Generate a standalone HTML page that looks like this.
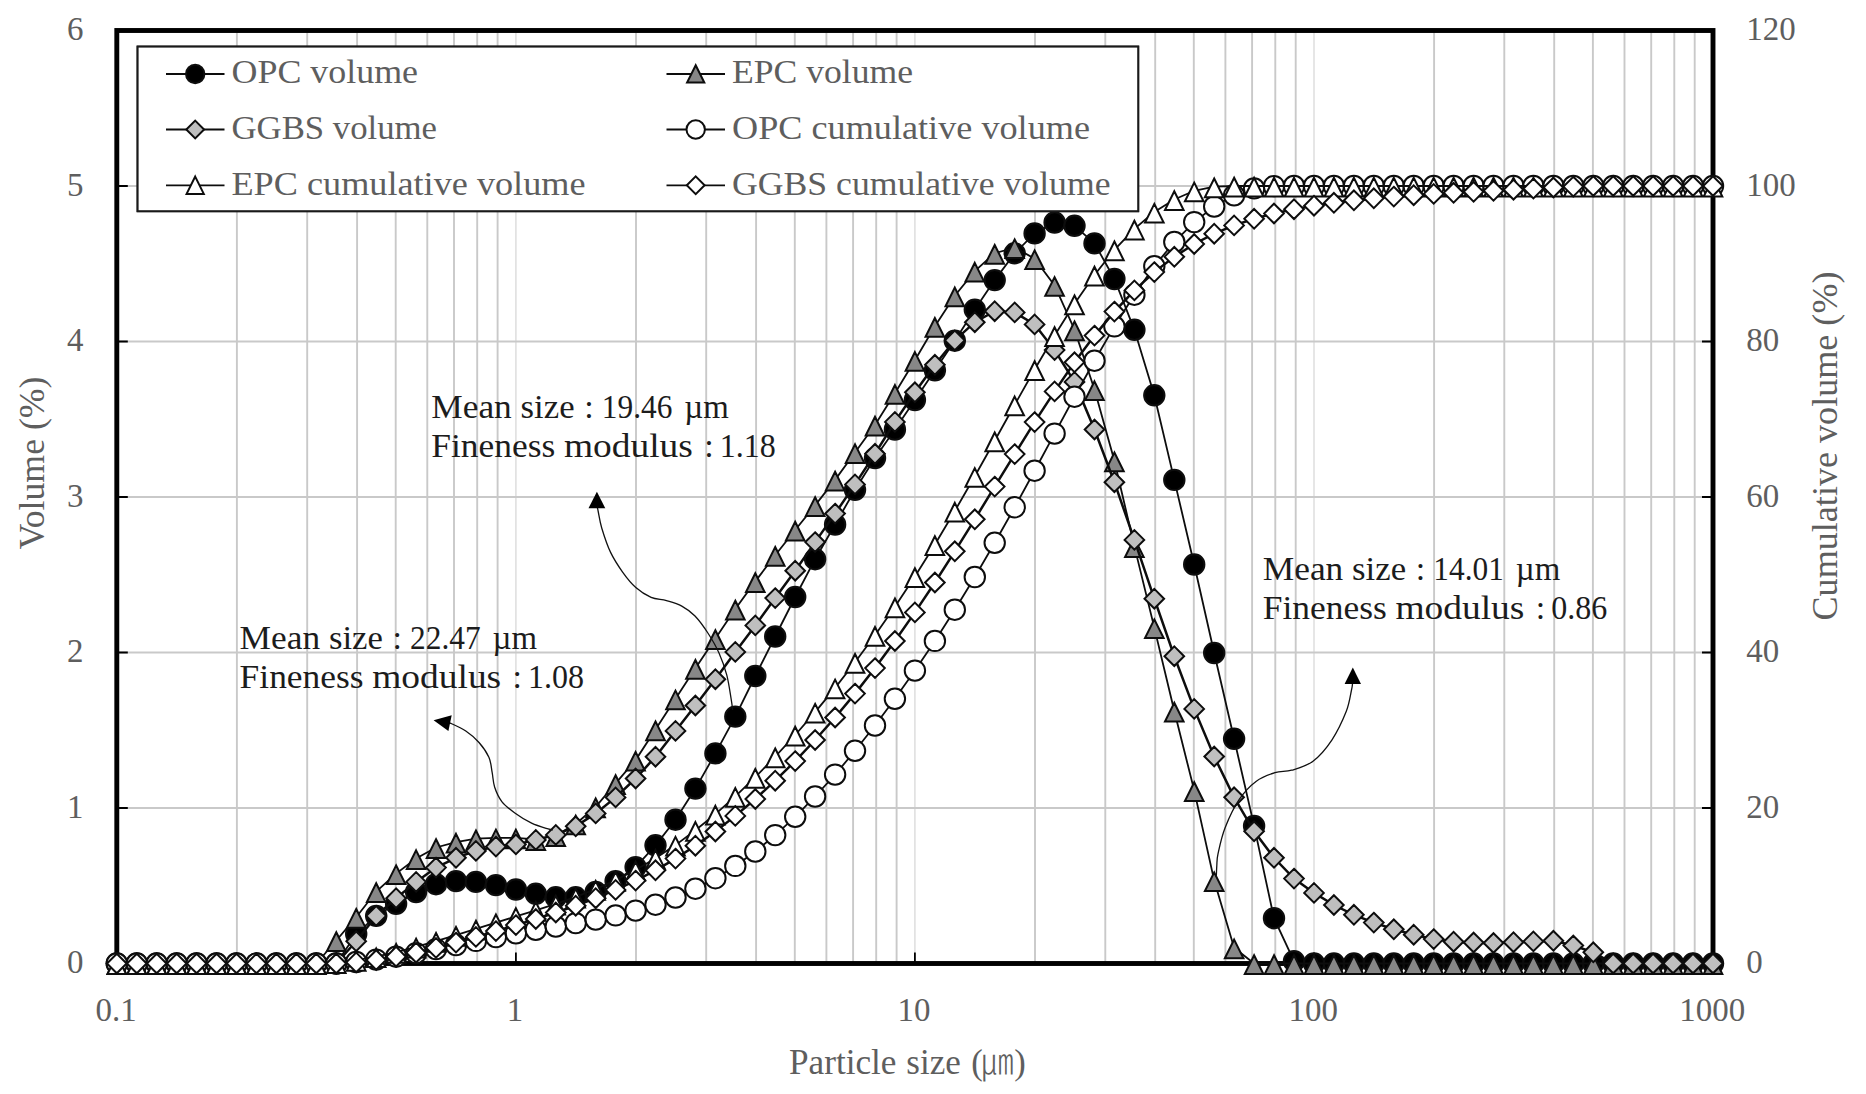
<!DOCTYPE html>
<html lang="en"><head><meta charset="utf-8"><title>Particle size distribution</title>
<style>html,body{margin:0;padding:0;background:#fff}svg{display:block}text{font-family:"Liberation Serif","Noto Sans CJK KR",serif}.t{fill:#5e5e5e;font-size:34px}.a{fill:#1c1c1c;font-size:34px}.lg{fill:#5e5e5e;font-size:33px}</style></head><body>
<svg width="1866" height="1094" viewBox="0 0 1866 1094">
<rect width="1866" height="1094" fill="#fff"/>
<path d="M515.9 30.5V963.5M914.9 30.5V963.5M1314.0 30.5V963.5" stroke="#dedede" stroke-width="1.5" fill="none"/>
<path d="M236.9 30.5V963.5M307.2 30.5V963.5M357.1 30.5V963.5M395.7 30.5V963.5M427.3 30.5V963.5M454.0 30.5V963.5M477.2 30.5V963.5M497.6 30.5V963.5M636.0 30.5V963.5M706.2 30.5V963.5M756.1 30.5V963.5M794.8 30.5V963.5M826.4 30.5V963.5M853.1 30.5V963.5M876.2 30.5V963.5M896.6 30.5V963.5M1035.0 30.5V963.5M1105.3 30.5V963.5M1155.2 30.5V963.5M1193.8 30.5V963.5M1225.4 30.5V963.5M1252.1 30.5V963.5M1275.3 30.5V963.5M1295.7 30.5V963.5M1434.1 30.5V963.5M1504.3 30.5V963.5M1554.2 30.5V963.5M1592.9 30.5V963.5M1624.5 30.5V963.5M1651.2 30.5V963.5M1674.3 30.5V963.5M1694.7 30.5V963.5M116.8 808.0H1713.0M116.8 652.5H1713.0M116.8 497.0H1713.0M116.8 341.5H1713.0M116.8 186.0H1713.0" stroke="#c9c9c9" stroke-width="1.9" fill="none"/>
<rect x="116.8" y="30.5" width="1596.2" height="933.0" fill="none" stroke="#000" stroke-width="4.9"/>
<path d="M116.8 808.0h11M1713.0 808.0h-11M116.8 652.5h11M1713.0 652.5h-11M116.8 497.0h11M1713.0 497.0h-11M116.8 341.5h11M1713.0 341.5h-11M116.8 186.0h11M1713.0 186.0h-11M515.9 963.5v-11M914.9 963.5v-11M1314.0 963.5v-11" stroke="#000" stroke-width="1.8" fill="none"/>
<rect x="137.6" y="46.6" width="1000.6" height="164.6" fill="#fff" stroke="#1a1a1a" stroke-width="2"/>
<g stroke="#0d0d0d" stroke-width="2" stroke-linejoin="miter">
<polyline fill="none" stroke-width="1.8" points="116.8,963.5 136.8,963.5 156.7,963.5 176.7,963.5 196.6,963.5 216.6,963.5 236.5,963.5 256.5,963.5 276.4,963.5 296.4,963.5 316.3,963.5 336.3,963.5 356.2,934.0 376.2,915.9 396.1,903.8 416.1,892.0 436.0,884.2 456.0,881.1 475.9,881.9 495.9,885.1 515.9,889.5 535.8,893.8 555.8,897.3 575.7,897.3 595.7,892.0 615.6,881.1 635.6,867.1 655.5,845.3 675.5,819.7 695.4,788.6 715.4,753.4 735.3,716.6 755.3,676.0 775.2,636.5 795.2,597.0 815.1,559.2 835.1,524.5 855.0,489.8 875.0,458.1 894.9,429.5 914.9,400.0 934.9,370.3 954.8,340.7 974.8,309.6 994.7,280.1 1014.7,253.3 1034.6,233.4 1054.6,222.5 1074.5,225.8 1094.5,243.4 1114.4,279.0 1134.4,329.8 1154.3,395.3 1174.3,479.9 1194.2,564.5 1214.2,653.0 1234.1,738.8 1254.1,825.9 1274.0,918.2 1294.0,961.2 1314.0,963.5 1333.9,963.5 1353.9,963.5 1373.8,963.5 1393.8,963.5 1413.7,963.5 1433.7,963.5 1453.6,963.5 1473.6,963.5 1493.5,963.5 1513.5,963.5 1533.4,963.5 1553.4,963.5 1573.3,963.5 1593.3,963.5 1613.2,963.5 1633.2,963.5 1653.1,963.5 1673.1,963.5 1693.0,963.5 1713.0,963.5"/>
<g fill="#000"><circle cx="116.8" cy="963.5" r="10.2"/><circle cx="136.8" cy="963.5" r="10.2"/><circle cx="156.7" cy="963.5" r="10.2"/><circle cx="176.7" cy="963.5" r="10.2"/><circle cx="196.6" cy="963.5" r="10.2"/><circle cx="216.6" cy="963.5" r="10.2"/><circle cx="236.5" cy="963.5" r="10.2"/><circle cx="256.5" cy="963.5" r="10.2"/><circle cx="276.4" cy="963.5" r="10.2"/><circle cx="296.4" cy="963.5" r="10.2"/><circle cx="316.3" cy="963.5" r="10.2"/><circle cx="336.3" cy="963.5" r="10.2"/><circle cx="356.2" cy="934.0" r="10.2"/><circle cx="376.2" cy="915.9" r="10.2"/><circle cx="396.1" cy="903.8" r="10.2"/><circle cx="416.1" cy="892.0" r="10.2"/><circle cx="436.0" cy="884.2" r="10.2"/><circle cx="456.0" cy="881.1" r="10.2"/><circle cx="475.9" cy="881.9" r="10.2"/><circle cx="495.9" cy="885.1" r="10.2"/><circle cx="515.9" cy="889.5" r="10.2"/><circle cx="535.8" cy="893.8" r="10.2"/><circle cx="555.8" cy="897.3" r="10.2"/><circle cx="575.7" cy="897.3" r="10.2"/><circle cx="595.7" cy="892.0" r="10.2"/><circle cx="615.6" cy="881.1" r="10.2"/><circle cx="635.6" cy="867.1" r="10.2"/><circle cx="655.5" cy="845.3" r="10.2"/><circle cx="675.5" cy="819.7" r="10.2"/><circle cx="695.4" cy="788.6" r="10.2"/><circle cx="715.4" cy="753.4" r="10.2"/><circle cx="735.3" cy="716.6" r="10.2"/><circle cx="755.3" cy="676.0" r="10.2"/><circle cx="775.2" cy="636.5" r="10.2"/><circle cx="795.2" cy="597.0" r="10.2"/><circle cx="815.1" cy="559.2" r="10.2"/><circle cx="835.1" cy="524.5" r="10.2"/><circle cx="855.0" cy="489.8" r="10.2"/><circle cx="875.0" cy="458.1" r="10.2"/><circle cx="894.9" cy="429.5" r="10.2"/><circle cx="914.9" cy="400.0" r="10.2"/><circle cx="934.9" cy="370.3" r="10.2"/><circle cx="954.8" cy="340.7" r="10.2"/><circle cx="974.8" cy="309.6" r="10.2"/><circle cx="994.7" cy="280.1" r="10.2"/><circle cx="1014.7" cy="253.3" r="10.2"/><circle cx="1034.6" cy="233.4" r="10.2"/><circle cx="1054.6" cy="222.5" r="10.2"/><circle cx="1074.5" cy="225.8" r="10.2"/><circle cx="1094.5" cy="243.4" r="10.2"/><circle cx="1114.4" cy="279.0" r="10.2"/><circle cx="1134.4" cy="329.8" r="10.2"/><circle cx="1154.3" cy="395.3" r="10.2"/><circle cx="1174.3" cy="479.9" r="10.2"/><circle cx="1194.2" cy="564.5" r="10.2"/><circle cx="1214.2" cy="653.0" r="10.2"/><circle cx="1234.1" cy="738.8" r="10.2"/><circle cx="1254.1" cy="825.9" r="10.2"/><circle cx="1274.0" cy="918.2" r="10.2"/><circle cx="1294.0" cy="961.2" r="10.2"/><circle cx="1314.0" cy="963.5" r="10.2"/><circle cx="1333.9" cy="963.5" r="10.2"/><circle cx="1353.9" cy="963.5" r="10.2"/><circle cx="1373.8" cy="963.5" r="10.2"/><circle cx="1393.8" cy="963.5" r="10.2"/><circle cx="1413.7" cy="963.5" r="10.2"/><circle cx="1433.7" cy="963.5" r="10.2"/><circle cx="1453.6" cy="963.5" r="10.2"/><circle cx="1473.6" cy="963.5" r="10.2"/><circle cx="1493.5" cy="963.5" r="10.2"/><circle cx="1513.5" cy="963.5" r="10.2"/><circle cx="1533.4" cy="963.5" r="10.2"/><circle cx="1553.4" cy="963.5" r="10.2"/><circle cx="1573.3" cy="963.5" r="10.2"/><circle cx="1593.3" cy="963.5" r="10.2"/><circle cx="1613.2" cy="963.5" r="10.2"/><circle cx="1633.2" cy="963.5" r="10.2"/><circle cx="1653.1" cy="963.5" r="10.2"/><circle cx="1673.1" cy="963.5" r="10.2"/><circle cx="1693.0" cy="963.5" r="10.2"/><circle cx="1713.0" cy="963.5" r="10.2"/></g>
</g>
<g stroke="#0d0d0d" stroke-width="2" stroke-linejoin="miter">
<polyline fill="none" stroke-width="1.8" points="116.8,963.5 136.8,963.5 156.7,963.5 176.7,963.5 196.6,963.5 216.6,963.5 236.5,963.5 256.5,963.5 276.4,963.5 296.4,963.5 316.3,963.5 336.3,940.5 356.2,917.2 376.2,891.5 396.1,873.6 416.1,858.5 436.0,847.5 456.0,842.1 475.9,838.6 495.9,837.9 515.9,837.9 535.8,839.4 555.8,835.5 575.7,823.9 595.7,806.8 615.6,783.4 635.6,760.1 655.5,729.6 675.5,698.8 695.4,668.2 715.4,638.5 735.3,609.0 755.3,581.4 775.2,555.2 795.2,530.0 815.1,505.4 835.1,479.9 855.0,452.5 875.0,425.0 894.9,393.3 914.9,360.3 934.9,326.3 954.8,295.8 974.8,271.1 994.7,253.2 1014.7,247.6 1034.6,258.6 1054.6,285.4 1074.5,329.7 1094.5,389.5 1114.4,460.8 1134.4,546.4 1154.3,627.6 1174.3,711.0 1194.2,790.4 1214.2,880.6 1234.1,947.8 1254.1,963.5 1274.0,963.5 1294.0,963.5 1314.0,963.5 1333.9,963.5 1353.9,963.5 1373.8,963.5 1393.8,963.5 1413.7,963.5 1433.7,963.5 1453.6,963.5 1473.6,963.5 1493.5,963.5 1513.5,963.5 1533.4,963.5 1553.4,963.5 1573.3,963.5 1593.3,963.5 1613.2,963.5 1633.2,963.5 1653.1,963.5 1673.1,963.5 1693.0,963.5 1713.0,963.5"/>
<path fill="#878787" d="M116.80 955.30l9.3 18.7h-18.6zM136.75 955.30l9.3 18.7h-18.6zM156.70 955.30l9.3 18.7h-18.6zM176.66 955.30l9.3 18.7h-18.6zM196.61 955.30l9.3 18.7h-18.6zM216.56 955.30l9.3 18.7h-18.6zM236.51 955.30l9.3 18.7h-18.6zM256.47 955.30l9.3 18.7h-18.6zM276.42 955.30l9.3 18.7h-18.6zM296.37 955.30l9.3 18.7h-18.6zM316.32 955.30l9.3 18.7h-18.6zM336.28 932.29l9.3 18.7h-18.6zM356.23 908.96l9.3 18.7h-18.6zM376.18 883.30l9.3 18.7h-18.6zM396.13 865.42l9.3 18.7h-18.6zM416.09 850.34l9.3 18.7h-18.6zM436.04 839.30l9.3 18.7h-18.6zM455.99 833.85l9.3 18.7h-18.6zM475.95 830.43l9.3 18.7h-18.6zM495.90 829.66l9.3 18.7h-18.6zM515.85 829.66l9.3 18.7h-18.6zM535.80 831.21l9.3 18.7h-18.6zM555.75 827.32l9.3 18.7h-18.6zM575.71 815.66l9.3 18.7h-18.6zM595.66 798.56l9.3 18.7h-18.6zM615.61 775.23l9.3 18.7h-18.6zM635.57 751.91l9.3 18.7h-18.6zM655.52 721.43l9.3 18.7h-18.6zM675.47 690.64l9.3 18.7h-18.6zM695.42 660.01l9.3 18.7h-18.6zM715.38 630.31l9.3 18.7h-18.6zM735.33 600.76l9.3 18.7h-18.6zM755.28 573.24l9.3 18.7h-18.6zM775.23 546.96l9.3 18.7h-18.6zM795.18 521.77l9.3 18.7h-18.6zM815.14 497.20l9.3 18.7h-18.6zM835.09 471.69l9.3 18.7h-18.6zM855.04 444.33l9.3 18.7h-18.6zM874.99 416.80l9.3 18.7h-18.6zM894.95 385.08l9.3 18.7h-18.6zM914.90 352.12l9.3 18.7h-18.6zM934.85 318.06l9.3 18.7h-18.6zM954.81 287.58l9.3 18.7h-18.6zM974.76 262.86l9.3 18.7h-18.6zM994.71 244.98l9.3 18.7h-18.6zM1014.66 239.38l9.3 18.7h-18.6zM1034.62 250.42l9.3 18.7h-18.6zM1054.57 277.16l9.3 18.7h-18.6zM1074.52 321.48l9.3 18.7h-18.6zM1094.47 381.35l9.3 18.7h-18.6zM1114.42 452.57l9.3 18.7h-18.6zM1134.38 538.25l9.3 18.7h-18.6zM1154.33 619.42l9.3 18.7h-18.6zM1174.28 702.77l9.3 18.7h-18.6zM1194.23 782.23l9.3 18.7h-18.6zM1214.19 872.42l9.3 18.7h-18.6zM1234.14 939.59l9.3 18.7h-18.6zM1254.09 955.30l9.3 18.7h-18.6zM1274.05 955.30l9.3 18.7h-18.6zM1294.00 955.30l9.3 18.7h-18.6zM1313.95 955.30l9.3 18.7h-18.6zM1333.90 955.30l9.3 18.7h-18.6zM1353.86 955.30l9.3 18.7h-18.6zM1373.81 955.30l9.3 18.7h-18.6zM1393.76 955.30l9.3 18.7h-18.6zM1413.71 955.30l9.3 18.7h-18.6zM1433.66 955.30l9.3 18.7h-18.6zM1453.62 955.30l9.3 18.7h-18.6zM1473.57 955.30l9.3 18.7h-18.6zM1493.52 955.30l9.3 18.7h-18.6zM1513.47 955.30l9.3 18.7h-18.6zM1533.43 955.30l9.3 18.7h-18.6zM1553.38 955.30l9.3 18.7h-18.6zM1573.33 955.30l9.3 18.7h-18.6zM1593.29 955.30l9.3 18.7h-18.6zM1613.24 955.30l9.3 18.7h-18.6zM1633.19 955.30l9.3 18.7h-18.6zM1653.14 955.30l9.3 18.7h-18.6zM1673.10 955.30l9.3 18.7h-18.6zM1693.05 955.30l9.3 18.7h-18.6zM1713.00 955.30l9.3 18.7h-18.6z"/>
</g>
<g stroke="#0d0d0d" stroke-width="2" stroke-linejoin="miter">
<polyline fill="none" stroke-width="2.5" points="116.8,963.5 136.8,963.5 156.7,963.5 176.7,963.5 196.6,963.5 216.6,963.5 236.5,963.5 256.5,963.5 276.4,963.5 296.4,963.5 316.3,963.5 336.3,963.5 356.2,941.3 376.2,915.9 396.1,898.2 416.1,881.9 436.0,867.6 456.0,857.8 475.9,850.9 495.9,846.6 515.9,844.4 535.8,839.9 555.8,834.9 575.7,826.3 595.7,813.4 615.6,797.4 635.6,778.5 655.5,756.7 675.5,730.9 695.4,705.5 715.4,679.2 735.3,651.9 755.3,625.4 775.2,598.1 795.2,570.7 815.1,542.1 835.1,513.6 855.0,484.4 875.0,453.8 894.9,421.9 914.9,392.3 934.9,364.8 954.8,340.4 974.8,322.2 994.7,311.2 1014.7,312.4 1034.6,324.4 1054.6,350.1 1074.5,381.9 1094.5,429.5 1114.4,482.2 1134.4,539.9 1154.3,598.7 1174.3,656.2 1194.2,708.9 1214.2,756.5 1234.1,797.3 1254.1,831.3 1274.0,857.8 1294.0,878.6 1314.0,892.9 1333.9,905.0 1353.9,914.8 1373.8,922.6 1393.8,929.3 1413.7,934.7 1433.7,939.1 1453.6,941.7 1473.6,942.5 1493.5,943.0 1513.5,942.2 1533.4,941.4 1553.4,940.8 1573.3,945.5 1593.3,952.3 1613.2,963.5 1633.2,963.5 1653.1,963.5 1673.1,963.5 1693.0,963.5 1713.0,963.5"/>
<path fill="#bfbfbf" d="M116.8 953.7l9.8 9.8l-9.8 9.8l-9.8 -9.8zM136.8 953.7l9.8 9.8l-9.8 9.8l-9.8 -9.8zM156.7 953.7l9.8 9.8l-9.8 9.8l-9.8 -9.8zM176.7 953.7l9.8 9.8l-9.8 9.8l-9.8 -9.8zM196.6 953.7l9.8 9.8l-9.8 9.8l-9.8 -9.8zM216.6 953.7l9.8 9.8l-9.8 9.8l-9.8 -9.8zM236.5 953.7l9.8 9.8l-9.8 9.8l-9.8 -9.8zM256.5 953.7l9.8 9.8l-9.8 9.8l-9.8 -9.8zM276.4 953.7l9.8 9.8l-9.8 9.8l-9.8 -9.8zM296.4 953.7l9.8 9.8l-9.8 9.8l-9.8 -9.8zM316.3 953.7l9.8 9.8l-9.8 9.8l-9.8 -9.8zM336.3 953.7l9.8 9.8l-9.8 9.8l-9.8 -9.8zM356.2 931.5l9.8 9.8l-9.8 9.8l-9.8 -9.8zM376.2 906.1l9.8 9.8l-9.8 9.8l-9.8 -9.8zM396.1 888.4l9.8 9.8l-9.8 9.8l-9.8 -9.8zM416.1 872.1l9.8 9.8l-9.8 9.8l-9.8 -9.8zM436.0 857.8l9.8 9.8l-9.8 9.8l-9.8 -9.8zM456.0 848.0l9.8 9.8l-9.8 9.8l-9.8 -9.8zM475.9 841.1l9.8 9.8l-9.8 9.8l-9.8 -9.8zM495.9 836.8l9.8 9.8l-9.8 9.8l-9.8 -9.8zM515.9 834.6l9.8 9.8l-9.8 9.8l-9.8 -9.8zM535.8 830.1l9.8 9.8l-9.8 9.8l-9.8 -9.8zM555.8 825.1l9.8 9.8l-9.8 9.8l-9.8 -9.8zM575.7 816.5l9.8 9.8l-9.8 9.8l-9.8 -9.8zM595.7 803.6l9.8 9.8l-9.8 9.8l-9.8 -9.8zM615.6 787.6l9.8 9.8l-9.8 9.8l-9.8 -9.8zM635.6 768.7l9.8 9.8l-9.8 9.8l-9.8 -9.8zM655.5 746.9l9.8 9.8l-9.8 9.8l-9.8 -9.8zM675.5 721.1l9.8 9.8l-9.8 9.8l-9.8 -9.8zM695.4 695.7l9.8 9.8l-9.8 9.8l-9.8 -9.8zM715.4 669.4l9.8 9.8l-9.8 9.8l-9.8 -9.8zM735.3 642.1l9.8 9.8l-9.8 9.8l-9.8 -9.8zM755.3 615.6l9.8 9.8l-9.8 9.8l-9.8 -9.8zM775.2 588.3l9.8 9.8l-9.8 9.8l-9.8 -9.8zM795.2 560.9l9.8 9.8l-9.8 9.8l-9.8 -9.8zM815.1 532.3l9.8 9.8l-9.8 9.8l-9.8 -9.8zM835.1 503.8l9.8 9.8l-9.8 9.8l-9.8 -9.8zM855.0 474.6l9.8 9.8l-9.8 9.8l-9.8 -9.8zM875.0 444.0l9.8 9.8l-9.8 9.8l-9.8 -9.8zM894.9 412.1l9.8 9.8l-9.8 9.8l-9.8 -9.8zM914.9 382.5l9.8 9.8l-9.8 9.8l-9.8 -9.8zM934.9 355.0l9.8 9.8l-9.8 9.8l-9.8 -9.8zM954.8 330.6l9.8 9.8l-9.8 9.8l-9.8 -9.8zM974.8 312.4l9.8 9.8l-9.8 9.8l-9.8 -9.8zM994.7 301.4l9.8 9.8l-9.8 9.8l-9.8 -9.8zM1014.7 302.6l9.8 9.8l-9.8 9.8l-9.8 -9.8zM1034.6 314.6l9.8 9.8l-9.8 9.8l-9.8 -9.8zM1054.6 340.3l9.8 9.8l-9.8 9.8l-9.8 -9.8zM1074.5 372.1l9.8 9.8l-9.8 9.8l-9.8 -9.8zM1094.5 419.7l9.8 9.8l-9.8 9.8l-9.8 -9.8zM1114.4 472.4l9.8 9.8l-9.8 9.8l-9.8 -9.8zM1134.4 530.1l9.8 9.8l-9.8 9.8l-9.8 -9.8zM1154.3 588.9l9.8 9.8l-9.8 9.8l-9.8 -9.8zM1174.3 646.4l9.8 9.8l-9.8 9.8l-9.8 -9.8zM1194.2 699.1l9.8 9.8l-9.8 9.8l-9.8 -9.8zM1214.2 746.7l9.8 9.8l-9.8 9.8l-9.8 -9.8zM1234.1 787.5l9.8 9.8l-9.8 9.8l-9.8 -9.8zM1254.1 821.5l9.8 9.8l-9.8 9.8l-9.8 -9.8zM1274.0 848.0l9.8 9.8l-9.8 9.8l-9.8 -9.8zM1294.0 868.8l9.8 9.8l-9.8 9.8l-9.8 -9.8zM1314.0 883.1l9.8 9.8l-9.8 9.8l-9.8 -9.8zM1333.9 895.2l9.8 9.8l-9.8 9.8l-9.8 -9.8zM1353.9 905.0l9.8 9.8l-9.8 9.8l-9.8 -9.8zM1373.8 912.8l9.8 9.8l-9.8 9.8l-9.8 -9.8zM1393.8 919.5l9.8 9.8l-9.8 9.8l-9.8 -9.8zM1413.7 924.9l9.8 9.8l-9.8 9.8l-9.8 -9.8zM1433.7 929.3l9.8 9.8l-9.8 9.8l-9.8 -9.8zM1453.6 931.9l9.8 9.8l-9.8 9.8l-9.8 -9.8zM1473.6 932.7l9.8 9.8l-9.8 9.8l-9.8 -9.8zM1493.5 933.2l9.8 9.8l-9.8 9.8l-9.8 -9.8zM1513.5 932.4l9.8 9.8l-9.8 9.8l-9.8 -9.8zM1533.4 931.6l9.8 9.8l-9.8 9.8l-9.8 -9.8zM1553.4 931.0l9.8 9.8l-9.8 9.8l-9.8 -9.8zM1573.3 935.7l9.8 9.8l-9.8 9.8l-9.8 -9.8zM1593.3 942.5l9.8 9.8l-9.8 9.8l-9.8 -9.8zM1613.2 953.7l9.8 9.8l-9.8 9.8l-9.8 -9.8zM1633.2 953.7l9.8 9.8l-9.8 9.8l-9.8 -9.8zM1653.1 953.7l9.8 9.8l-9.8 9.8l-9.8 -9.8zM1673.1 953.7l9.8 9.8l-9.8 9.8l-9.8 -9.8zM1693.0 953.7l9.8 9.8l-9.8 9.8l-9.8 -9.8zM1713.0 953.7l9.8 9.8l-9.8 9.8l-9.8 -9.8z"/>
</g>
<g stroke="#0d0d0d" stroke-width="2" stroke-linejoin="miter">
<polyline fill="none" stroke-width="1.8" points="116.8,963.5 136.8,963.5 156.7,963.5 176.7,963.5 196.6,963.5 216.6,963.5 236.5,963.5 256.5,963.5 276.4,963.5 296.4,963.5 316.3,963.5 336.3,963.5 356.2,962.0 376.2,959.6 396.1,956.7 416.1,953.1 436.0,949.1 456.0,945.0 475.9,940.9 495.9,937.0 515.9,933.3 535.8,929.8 555.8,926.5 575.7,923.1 595.7,919.6 615.6,915.4 635.6,910.6 655.5,904.7 675.5,897.5 695.4,888.7 715.4,878.2 735.3,865.9 755.3,851.5 775.2,835.1 795.2,816.8 815.1,796.5 835.1,774.6 855.0,750.8 875.0,725.5 894.9,698.8 914.9,670.6 934.9,640.9 954.8,609.7 974.8,577.0 994.7,542.8 1014.7,507.3 1034.6,470.7 1054.6,433.6 1074.5,396.7 1094.5,360.7 1114.4,326.4 1134.4,294.7 1154.3,266.2 1174.3,242.0 1194.2,222.1 1214.2,206.5 1234.1,195.3 1254.1,188.4 1274.0,186.1 1294.0,186.0 1314.0,186.0 1333.9,186.0 1353.9,186.0 1373.8,186.0 1393.8,186.0 1413.7,186.0 1433.7,186.0 1453.6,186.0 1473.6,186.0 1493.5,186.0 1513.5,186.0 1533.4,186.0 1553.4,186.0 1573.3,186.0 1593.3,186.0 1613.2,186.0 1633.2,186.0 1653.1,186.0 1673.1,186.0 1693.0,186.0 1713.0,186.0"/>
<g fill="#fff"><circle cx="116.8" cy="963.5" r="10.2"/><circle cx="136.8" cy="963.5" r="10.2"/><circle cx="156.7" cy="963.5" r="10.2"/><circle cx="176.7" cy="963.5" r="10.2"/><circle cx="196.6" cy="963.5" r="10.2"/><circle cx="216.6" cy="963.5" r="10.2"/><circle cx="236.5" cy="963.5" r="10.2"/><circle cx="256.5" cy="963.5" r="10.2"/><circle cx="276.4" cy="963.5" r="10.2"/><circle cx="296.4" cy="963.5" r="10.2"/><circle cx="316.3" cy="963.5" r="10.2"/><circle cx="336.3" cy="963.5" r="10.2"/><circle cx="356.2" cy="962.0" r="10.2"/><circle cx="376.2" cy="959.6" r="10.2"/><circle cx="396.1" cy="956.7" r="10.2"/><circle cx="416.1" cy="953.1" r="10.2"/><circle cx="436.0" cy="949.1" r="10.2"/><circle cx="456.0" cy="945.0" r="10.2"/><circle cx="475.9" cy="940.9" r="10.2"/><circle cx="495.9" cy="937.0" r="10.2"/><circle cx="515.9" cy="933.3" r="10.2"/><circle cx="535.8" cy="929.8" r="10.2"/><circle cx="555.8" cy="926.5" r="10.2"/><circle cx="575.7" cy="923.1" r="10.2"/><circle cx="595.7" cy="919.6" r="10.2"/><circle cx="615.6" cy="915.4" r="10.2"/><circle cx="635.6" cy="910.6" r="10.2"/><circle cx="655.5" cy="904.7" r="10.2"/><circle cx="675.5" cy="897.5" r="10.2"/><circle cx="695.4" cy="888.7" r="10.2"/><circle cx="715.4" cy="878.2" r="10.2"/><circle cx="735.3" cy="865.9" r="10.2"/><circle cx="755.3" cy="851.5" r="10.2"/><circle cx="775.2" cy="835.1" r="10.2"/><circle cx="795.2" cy="816.8" r="10.2"/><circle cx="815.1" cy="796.5" r="10.2"/><circle cx="835.1" cy="774.6" r="10.2"/><circle cx="855.0" cy="750.8" r="10.2"/><circle cx="875.0" cy="725.5" r="10.2"/><circle cx="894.9" cy="698.8" r="10.2"/><circle cx="914.9" cy="670.6" r="10.2"/><circle cx="934.9" cy="640.9" r="10.2"/><circle cx="954.8" cy="609.7" r="10.2"/><circle cx="974.8" cy="577.0" r="10.2"/><circle cx="994.7" cy="542.8" r="10.2"/><circle cx="1014.7" cy="507.3" r="10.2"/><circle cx="1034.6" cy="470.7" r="10.2"/><circle cx="1054.6" cy="433.6" r="10.2"/><circle cx="1074.5" cy="396.7" r="10.2"/><circle cx="1094.5" cy="360.7" r="10.2"/><circle cx="1114.4" cy="326.4" r="10.2"/><circle cx="1134.4" cy="294.7" r="10.2"/><circle cx="1154.3" cy="266.2" r="10.2"/><circle cx="1174.3" cy="242.0" r="10.2"/><circle cx="1194.2" cy="222.1" r="10.2"/><circle cx="1214.2" cy="206.5" r="10.2"/><circle cx="1234.1" cy="195.3" r="10.2"/><circle cx="1254.1" cy="188.4" r="10.2"/><circle cx="1274.0" cy="186.1" r="10.2"/><circle cx="1294.0" cy="186.0" r="10.2"/><circle cx="1314.0" cy="186.0" r="10.2"/><circle cx="1333.9" cy="186.0" r="10.2"/><circle cx="1353.9" cy="186.0" r="10.2"/><circle cx="1373.8" cy="186.0" r="10.2"/><circle cx="1393.8" cy="186.0" r="10.2"/><circle cx="1413.7" cy="186.0" r="10.2"/><circle cx="1433.7" cy="186.0" r="10.2"/><circle cx="1453.6" cy="186.0" r="10.2"/><circle cx="1473.6" cy="186.0" r="10.2"/><circle cx="1493.5" cy="186.0" r="10.2"/><circle cx="1513.5" cy="186.0" r="10.2"/><circle cx="1533.4" cy="186.0" r="10.2"/><circle cx="1553.4" cy="186.0" r="10.2"/><circle cx="1573.3" cy="186.0" r="10.2"/><circle cx="1593.3" cy="186.0" r="10.2"/><circle cx="1613.2" cy="186.0" r="10.2"/><circle cx="1633.2" cy="186.0" r="10.2"/><circle cx="1653.1" cy="186.0" r="10.2"/><circle cx="1673.1" cy="186.0" r="10.2"/><circle cx="1693.0" cy="186.0" r="10.2"/><circle cx="1713.0" cy="186.0" r="10.2"/></g>
</g>
<g stroke="#0d0d0d" stroke-width="2" stroke-linejoin="miter">
<polyline fill="none" stroke-width="1.8" points="116.8,963.5 136.8,963.5 156.7,963.5 176.7,963.5 196.6,963.5 216.6,963.5 236.5,963.5 256.5,963.5 276.4,963.5 296.4,963.5 316.3,963.5 336.3,962.4 356.2,960.1 376.2,956.6 396.1,952.1 416.1,946.9 436.0,941.2 456.0,935.1 475.9,928.9 495.9,922.7 515.9,916.4 535.8,910.3 555.8,903.9 575.7,896.9 595.7,889.1 615.6,880.1 635.6,870.0 655.5,858.3 675.5,845.1 695.4,830.3 715.4,814.1 735.3,796.3 755.3,777.2 775.2,756.7 795.2,735.0 815.1,712.1 835.1,687.9 855.0,662.3 875.0,635.3 894.9,606.7 914.9,576.5 934.9,544.5 954.8,511.0 974.8,476.3 994.7,440.7 1014.7,404.8 1034.6,369.5 1054.6,335.5 1074.5,303.7 1094.5,275.0 1114.4,249.8 1134.4,228.9 1154.3,212.1 1174.3,199.5 1194.2,190.8 1214.2,186.7 1234.1,186.0 1254.1,186.0 1274.0,186.0 1294.0,186.0 1314.0,186.0 1333.9,186.0 1353.9,186.0 1373.8,186.0 1393.8,186.0 1413.7,186.0 1433.7,186.0 1453.6,186.0 1473.6,186.0 1493.5,186.0 1513.5,186.0 1533.4,186.0 1553.4,186.0 1573.3,186.0 1593.3,186.0 1613.2,186.0 1633.2,186.0 1653.1,186.0 1673.1,186.0 1693.0,186.0 1713.0,186.0"/>
<path fill="#fff" d="M116.80 955.30l9.3 18.7h-18.6zM136.75 955.30l9.3 18.7h-18.6zM156.70 955.30l9.3 18.7h-18.6zM176.66 955.30l9.3 18.7h-18.6zM196.61 955.30l9.3 18.7h-18.6zM216.56 955.30l9.3 18.7h-18.6zM236.51 955.30l9.3 18.7h-18.6zM256.47 955.30l9.3 18.7h-18.6zM276.42 955.30l9.3 18.7h-18.6zM296.37 955.30l9.3 18.7h-18.6zM316.32 955.30l9.3 18.7h-18.6zM336.28 954.21l9.3 18.7h-18.6zM356.23 951.94l9.3 18.7h-18.6zM376.18 948.39l9.3 18.7h-18.6zM396.13 943.94l9.3 18.7h-18.6zM416.09 938.73l9.3 18.7h-18.6zM436.04 932.96l9.3 18.7h-18.6zM455.99 926.93l9.3 18.7h-18.6zM475.95 920.72l9.3 18.7h-18.6zM495.90 914.47l9.3 18.7h-18.6zM515.85 908.22l9.3 18.7h-18.6zM535.80 902.05l9.3 18.7h-18.6zM555.75 895.69l9.3 18.7h-18.6zM575.71 888.74l9.3 18.7h-18.6zM595.66 880.93l9.3 18.7h-18.6zM615.61 871.95l9.3 18.7h-18.6zM635.57 861.79l9.3 18.7h-18.6zM655.52 850.11l9.3 18.7h-18.6zM675.47 836.88l9.3 18.7h-18.6zM695.42 822.11l9.3 18.7h-18.6zM715.38 805.85l9.3 18.7h-18.6zM735.33 788.11l9.3 18.7h-18.6zM755.28 768.98l9.3 18.7h-18.6zM775.23 748.53l9.3 18.7h-18.6zM795.18 726.82l9.3 18.7h-18.6zM815.14 703.88l9.3 18.7h-18.6zM835.09 679.65l9.3 18.7h-18.6zM855.04 654.05l9.3 18.7h-18.6zM874.99 627.07l9.3 18.7h-18.6zM894.95 598.49l9.3 18.7h-18.6zM914.90 568.26l9.3 18.7h-18.6zM934.85 536.32l9.3 18.7h-18.6zM954.81 502.85l9.3 18.7h-18.6zM974.76 468.13l9.3 18.7h-18.6zM994.71 432.52l9.3 18.7h-18.6zM1014.66 396.62l9.3 18.7h-18.6zM1034.62 361.28l9.3 18.7h-18.6zM1054.57 327.29l9.3 18.7h-18.6zM1074.52 295.52l9.3 18.7h-18.6zM1094.47 266.75l9.3 18.7h-18.6zM1114.42 241.57l9.3 18.7h-18.6zM1134.38 220.68l9.3 18.7h-18.6zM1154.33 203.88l9.3 18.7h-18.6zM1174.28 191.26l9.3 18.7h-18.6zM1194.23 182.63l9.3 18.7h-18.6zM1214.19 178.53l9.3 18.7h-18.6zM1234.14 177.80l9.3 18.7h-18.6zM1254.09 177.80l9.3 18.7h-18.6zM1274.05 177.80l9.3 18.7h-18.6zM1294.00 177.80l9.3 18.7h-18.6zM1313.95 177.80l9.3 18.7h-18.6zM1333.90 177.80l9.3 18.7h-18.6zM1353.86 177.80l9.3 18.7h-18.6zM1373.81 177.80l9.3 18.7h-18.6zM1393.76 177.80l9.3 18.7h-18.6zM1413.71 177.80l9.3 18.7h-18.6zM1433.66 177.80l9.3 18.7h-18.6zM1453.62 177.80l9.3 18.7h-18.6zM1473.57 177.80l9.3 18.7h-18.6zM1493.52 177.80l9.3 18.7h-18.6zM1513.47 177.80l9.3 18.7h-18.6zM1533.43 177.80l9.3 18.7h-18.6zM1553.38 177.80l9.3 18.7h-18.6zM1573.33 177.80l9.3 18.7h-18.6zM1593.29 177.80l9.3 18.7h-18.6zM1613.24 177.80l9.3 18.7h-18.6zM1633.19 177.80l9.3 18.7h-18.6zM1653.14 177.80l9.3 18.7h-18.6zM1673.10 177.80l9.3 18.7h-18.6zM1693.05 177.80l9.3 18.7h-18.6zM1713.00 177.80l9.3 18.7h-18.6z"/>
</g>
<g stroke="#0d0d0d" stroke-width="2" stroke-linejoin="miter">
<polyline fill="none" stroke-width="2.5" points="116.8,963.5 136.8,963.5 156.7,963.5 176.7,963.5 196.6,963.5 216.6,963.5 236.5,963.5 256.5,963.5 276.4,963.5 296.4,963.5 316.3,963.5 336.3,963.5 356.2,962.4 376.2,960.0 396.1,956.7 416.1,952.7 436.0,947.9 456.0,942.6 475.9,936.9 495.9,931.1 515.9,925.1 535.8,919.0 555.8,912.5 575.7,905.7 595.7,898.2 615.6,889.9 635.6,880.6 655.5,870.3 675.5,858.6 695.4,845.7 715.4,831.5 735.3,815.9 755.3,799.0 775.2,780.7 795.2,761.1 815.1,740.0 835.1,717.5 855.0,693.6 875.0,668.1 894.9,641.0 914.9,612.4 934.9,582.5 954.8,551.3 974.8,519.3 994.7,486.6 1014.7,454.1 1034.6,422.1 1054.6,391.4 1074.5,362.3 1094.5,335.6 1114.4,311.6 1134.4,290.4 1154.3,272.1 1174.3,256.8 1194.2,244.0 1214.2,233.7 1234.1,225.4 1254.1,218.8 1274.0,213.5 1294.0,209.2 1314.0,205.7 1333.9,202.8 1353.9,200.3 1373.8,198.3 1393.8,196.6 1413.7,195.2 1433.7,193.9 1453.6,192.8 1473.6,191.8 1493.5,190.8 1513.5,189.7 1533.4,188.6 1553.4,187.5 1573.3,186.6 1593.3,186.0 1613.2,186.0 1633.2,186.0 1653.1,186.0 1673.1,186.0 1693.0,186.0 1713.0,186.0"/>
<path fill="#fff" d="M116.8 953.7l9.8 9.8l-9.8 9.8l-9.8 -9.8zM136.8 953.7l9.8 9.8l-9.8 9.8l-9.8 -9.8zM156.7 953.7l9.8 9.8l-9.8 9.8l-9.8 -9.8zM176.7 953.7l9.8 9.8l-9.8 9.8l-9.8 -9.8zM196.6 953.7l9.8 9.8l-9.8 9.8l-9.8 -9.8zM216.6 953.7l9.8 9.8l-9.8 9.8l-9.8 -9.8zM236.5 953.7l9.8 9.8l-9.8 9.8l-9.8 -9.8zM256.5 953.7l9.8 9.8l-9.8 9.8l-9.8 -9.8zM276.4 953.7l9.8 9.8l-9.8 9.8l-9.8 -9.8zM296.4 953.7l9.8 9.8l-9.8 9.8l-9.8 -9.8zM316.3 953.7l9.8 9.8l-9.8 9.8l-9.8 -9.8zM336.3 953.7l9.8 9.8l-9.8 9.8l-9.8 -9.8zM356.2 952.6l9.8 9.8l-9.8 9.8l-9.8 -9.8zM376.2 950.2l9.8 9.8l-9.8 9.8l-9.8 -9.8zM396.1 946.9l9.8 9.8l-9.8 9.8l-9.8 -9.8zM416.1 942.9l9.8 9.8l-9.8 9.8l-9.8 -9.8zM436.0 938.1l9.8 9.8l-9.8 9.8l-9.8 -9.8zM456.0 932.8l9.8 9.8l-9.8 9.8l-9.8 -9.8zM475.9 927.1l9.8 9.8l-9.8 9.8l-9.8 -9.8zM495.9 921.3l9.8 9.8l-9.8 9.8l-9.8 -9.8zM515.9 915.3l9.8 9.8l-9.8 9.8l-9.8 -9.8zM535.8 909.2l9.8 9.8l-9.8 9.8l-9.8 -9.8zM555.8 902.7l9.8 9.8l-9.8 9.8l-9.8 -9.8zM575.7 895.9l9.8 9.8l-9.8 9.8l-9.8 -9.8zM595.7 888.4l9.8 9.8l-9.8 9.8l-9.8 -9.8zM615.6 880.1l9.8 9.8l-9.8 9.8l-9.8 -9.8zM635.6 870.8l9.8 9.8l-9.8 9.8l-9.8 -9.8zM655.5 860.5l9.8 9.8l-9.8 9.8l-9.8 -9.8zM675.5 848.8l9.8 9.8l-9.8 9.8l-9.8 -9.8zM695.4 835.9l9.8 9.8l-9.8 9.8l-9.8 -9.8zM715.4 821.7l9.8 9.8l-9.8 9.8l-9.8 -9.8zM735.3 806.1l9.8 9.8l-9.8 9.8l-9.8 -9.8zM755.3 789.2l9.8 9.8l-9.8 9.8l-9.8 -9.8zM775.2 770.9l9.8 9.8l-9.8 9.8l-9.8 -9.8zM795.2 751.3l9.8 9.8l-9.8 9.8l-9.8 -9.8zM815.1 730.2l9.8 9.8l-9.8 9.8l-9.8 -9.8zM835.1 707.7l9.8 9.8l-9.8 9.8l-9.8 -9.8zM855.0 683.8l9.8 9.8l-9.8 9.8l-9.8 -9.8zM875.0 658.3l9.8 9.8l-9.8 9.8l-9.8 -9.8zM894.9 631.2l9.8 9.8l-9.8 9.8l-9.8 -9.8zM914.9 602.6l9.8 9.8l-9.8 9.8l-9.8 -9.8zM934.9 572.7l9.8 9.8l-9.8 9.8l-9.8 -9.8zM954.8 541.5l9.8 9.8l-9.8 9.8l-9.8 -9.8zM974.8 509.5l9.8 9.8l-9.8 9.8l-9.8 -9.8zM994.7 476.8l9.8 9.8l-9.8 9.8l-9.8 -9.8zM1014.7 444.3l9.8 9.8l-9.8 9.8l-9.8 -9.8zM1034.6 412.3l9.8 9.8l-9.8 9.8l-9.8 -9.8zM1054.6 381.6l9.8 9.8l-9.8 9.8l-9.8 -9.8zM1074.5 352.5l9.8 9.8l-9.8 9.8l-9.8 -9.8zM1094.5 325.8l9.8 9.8l-9.8 9.8l-9.8 -9.8zM1114.4 301.8l9.8 9.8l-9.8 9.8l-9.8 -9.8zM1134.4 280.6l9.8 9.8l-9.8 9.8l-9.8 -9.8zM1154.3 262.3l9.8 9.8l-9.8 9.8l-9.8 -9.8zM1174.3 247.0l9.8 9.8l-9.8 9.8l-9.8 -9.8zM1194.2 234.2l9.8 9.8l-9.8 9.8l-9.8 -9.8zM1214.2 223.9l9.8 9.8l-9.8 9.8l-9.8 -9.8zM1234.1 215.6l9.8 9.8l-9.8 9.8l-9.8 -9.8zM1254.1 209.0l9.8 9.8l-9.8 9.8l-9.8 -9.8zM1274.0 203.7l9.8 9.8l-9.8 9.8l-9.8 -9.8zM1294.0 199.4l9.8 9.8l-9.8 9.8l-9.8 -9.8zM1314.0 195.9l9.8 9.8l-9.8 9.8l-9.8 -9.8zM1333.9 193.0l9.8 9.8l-9.8 9.8l-9.8 -9.8zM1353.9 190.5l9.8 9.8l-9.8 9.8l-9.8 -9.8zM1373.8 188.5l9.8 9.8l-9.8 9.8l-9.8 -9.8zM1393.8 186.8l9.8 9.8l-9.8 9.8l-9.8 -9.8zM1413.7 185.4l9.8 9.8l-9.8 9.8l-9.8 -9.8zM1433.7 184.1l9.8 9.8l-9.8 9.8l-9.8 -9.8zM1453.6 183.0l9.8 9.8l-9.8 9.8l-9.8 -9.8zM1473.6 182.0l9.8 9.8l-9.8 9.8l-9.8 -9.8zM1493.5 181.0l9.8 9.8l-9.8 9.8l-9.8 -9.8zM1513.5 179.9l9.8 9.8l-9.8 9.8l-9.8 -9.8zM1533.4 178.8l9.8 9.8l-9.8 9.8l-9.8 -9.8zM1553.4 177.7l9.8 9.8l-9.8 9.8l-9.8 -9.8zM1573.3 176.8l9.8 9.8l-9.8 9.8l-9.8 -9.8zM1593.3 176.2l9.8 9.8l-9.8 9.8l-9.8 -9.8zM1613.2 176.2l9.8 9.8l-9.8 9.8l-9.8 -9.8zM1633.2 176.2l9.8 9.8l-9.8 9.8l-9.8 -9.8zM1653.1 176.2l9.8 9.8l-9.8 9.8l-9.8 -9.8zM1673.1 176.2l9.8 9.8l-9.8 9.8l-9.8 -9.8zM1693.0 176.2l9.8 9.8l-9.8 9.8l-9.8 -9.8zM1713.0 176.2l9.8 9.8l-9.8 9.8l-9.8 -9.8z"/>
</g>
<rect x="137.6" y="46.6" width="1000.6" height="164.6" fill="#fff" stroke="#1a1a1a" stroke-width="2"/>
<g stroke="#0d0d0d" stroke-width="2">
<path d="M166.0 74.0H224.5" stroke-width="1.8"/>
<circle cx="195.2" cy="74.0" r="9.2" fill="#000"/>
</g>
<text class="lg" x="231.5" y="83.2" textLength="186.5" lengthAdjust="spacingAndGlyphs">OPC volume</text>
<g stroke="#0d0d0d" stroke-width="2">
<path d="M166.0 129.5H224.5" stroke-width="1.8"/>
<path fill="#bfbfbf" d="M195.2 120.6l8.9 8.9l-8.9 8.9l-8.9 -8.9z"/>
</g>
<text class="lg" x="231.5" y="138.7" textLength="205.5" lengthAdjust="spacingAndGlyphs">GGBS volume</text>
<g stroke="#0d0d0d" stroke-width="2">
<path d="M166.0 185.3H224.5" stroke-width="1.8"/>
<path fill="#fff" d="M195.20 176.60l8.6 17.3h-17.2z"/>
</g>
<text class="lg" x="231.5" y="194.5" textLength="354.0" lengthAdjust="spacingAndGlyphs">EPC cumulative volume</text>
<g stroke="#0d0d0d" stroke-width="2">
<path d="M666.5 74.0H725.0" stroke-width="1.8"/>
<path fill="#878787" d="M695.70 65.30l8.6 17.3h-17.2z"/>
</g>
<text class="lg" x="732.0" y="83.2" textLength="181.0" lengthAdjust="spacingAndGlyphs">EPC volume</text>
<g stroke="#0d0d0d" stroke-width="2">
<path d="M666.5 129.5H725.0" stroke-width="1.8"/>
<circle cx="695.7" cy="129.5" r="9.2" fill="#fff"/>
</g>
<text class="lg" x="732.0" y="138.7" textLength="358.0" lengthAdjust="spacingAndGlyphs">OPC cumulative volume</text>
<g stroke="#0d0d0d" stroke-width="2">
<path d="M666.5 185.3H725.0" stroke-width="1.8"/>
<path fill="#fff" d="M695.7 176.4l8.9 8.9l-8.9 8.9l-8.9 -8.9z"/>
</g>
<text class="lg" x="732.0" y="194.5" textLength="378.5" lengthAdjust="spacingAndGlyphs">GGBS cumulative volume</text>
<g fill="none" stroke="#111" stroke-width="1.3">
<path d="M597.0 506.0C597.2 506.8 597.3 507.3 598.1 511.0C598.9 514.7 599.7 521.3 601.8 528.2C603.9 535.1 607.1 545.1 610.6 552.4C614.1 559.7 618.4 566.2 622.6 572.1C626.8 578.0 631.0 583.3 635.8 587.5C640.5 591.7 646.0 595.1 651.1 597.3C656.2 599.5 661.4 599.1 666.5 600.6C671.6 602.1 677.0 603.5 681.8 606.1C686.5 608.7 690.6 611.4 695.0 616.0C699.4 620.6 704.2 627.3 708.2 633.5C712.2 639.7 716.0 646.2 719.1 653.2C722.2 660.2 724.8 667.5 726.8 675.2C728.8 682.9 730.2 693.5 731.2 699.3C732.2 705.1 732.4 708.2 732.6 710.0"/>
<path d="M553.0 829.9C552.2 829.7 551.7 830.0 548.1 828.9C544.5 827.8 537.1 825.8 531.6 823.2C526.1 820.6 520.1 816.9 515.2 813.3C510.3 809.7 505.4 806.2 502.0 801.8C498.6 797.4 496.2 791.9 494.6 787.0C493.0 782.1 493.1 777.2 492.1 772.2C491.2 767.2 491.1 762.2 488.9 757.3C486.7 752.3 482.9 746.9 479.0 742.5C475.1 738.1 470.6 734.2 465.8 731.0C461.0 727.8 453.5 724.6 450.2 723.1C446.9 721.6 446.7 722.0 446.0 721.8"/>
<path d="M1352.7 682.0C1352.5 683.3 1352.6 685.1 1351.5 690.0C1350.4 694.9 1349.5 703.0 1346.3 711.3C1343.0 719.6 1337.5 731.5 1332.0 739.8C1326.5 748.1 1319.7 756.1 1313.0 761.2C1306.3 766.3 1298.0 768.3 1291.7 770.2C1285.4 772.1 1281.0 770.7 1275.0 772.6C1269.0 774.5 1261.9 777.0 1256.0 781.4C1250.1 785.8 1244.6 791.5 1239.4 799.2C1234.2 806.9 1228.7 818.6 1225.1 827.7C1221.5 836.8 1219.4 847.5 1218.0 853.8C1216.6 860.1 1217.1 861.8 1216.8 865.7C1216.5 869.6 1216.4 875.1 1216.3 877.0"/>
</g>
<g fill="#000">
<path d="M596.9 491.8l8.4 16.4h-16.8z"/>
<path d="M433.6 720.3l18.1 -5l-3.3 15.8z"/>
<path d="M1352.8 667.6l8.2 16.4h-16.4z"/>
</g>
<text class="a" x="431.3" y="417.6" textLength="80.5" lengthAdjust="spacingAndGlyphs">Mean</text>
<text class="a" x="520.6" y="417.6" textLength="54.0" lengthAdjust="spacingAndGlyphs">size</text>
<text class="a" x="584.3" y="417.6">:</text>
<text class="a" x="601.8" y="417.6" textLength="70.5" lengthAdjust="spacingAndGlyphs">19.46</text>
<text class="a" x="684.3" y="417.6" textLength="44.5" lengthAdjust="spacingAndGlyphs">µm</text>
<text class="a" x="431.3" y="456.8" textLength="124.0" lengthAdjust="spacingAndGlyphs">Fineness</text>
<text class="a" x="563.9" y="456.8" textLength="129.0" lengthAdjust="spacingAndGlyphs">modulus</text>
<text class="a" x="704.3" y="456.8">:</text>
<text class="a" x="719.8" y="456.8" textLength="56.0" lengthAdjust="spacingAndGlyphs">1.18</text>
<text class="a" x="239.6" y="649.2" textLength="80.5" lengthAdjust="spacingAndGlyphs">Mean</text>
<text class="a" x="328.9" y="649.2" textLength="54.0" lengthAdjust="spacingAndGlyphs">size</text>
<text class="a" x="392.6" y="649.2">:</text>
<text class="a" x="410.1" y="649.2" textLength="70.5" lengthAdjust="spacingAndGlyphs">22.47</text>
<text class="a" x="492.6" y="649.2" textLength="44.5" lengthAdjust="spacingAndGlyphs">µm</text>
<text class="a" x="239.6" y="687.8" textLength="124.0" lengthAdjust="spacingAndGlyphs">Fineness</text>
<text class="a" x="372.2" y="687.8" textLength="129.0" lengthAdjust="spacingAndGlyphs">modulus</text>
<text class="a" x="512.6" y="687.8">:</text>
<text class="a" x="528.1" y="687.8" textLength="56.0" lengthAdjust="spacingAndGlyphs">1.08</text>
<text class="a" x="1262.8" y="579.7" textLength="80.5" lengthAdjust="spacingAndGlyphs">Mean</text>
<text class="a" x="1352.1" y="579.7" textLength="54.0" lengthAdjust="spacingAndGlyphs">size</text>
<text class="a" x="1415.8" y="579.7">:</text>
<text class="a" x="1433.3" y="579.7" textLength="70.5" lengthAdjust="spacingAndGlyphs">14.01</text>
<text class="a" x="1515.8" y="579.7" textLength="44.5" lengthAdjust="spacingAndGlyphs">µm</text>
<text class="a" x="1262.8" y="619.0" textLength="124.0" lengthAdjust="spacingAndGlyphs">Fineness</text>
<text class="a" x="1395.4" y="619.0" textLength="129.0" lengthAdjust="spacingAndGlyphs">modulus</text>
<text class="a" x="1535.8" y="619.0">:</text>
<text class="a" x="1551.3" y="619.0" textLength="56.0" lengthAdjust="spacingAndGlyphs">0.86</text>
<text class="t" text-anchor="end" transform="translate(83.5 973.1) scale(0.97 1)">0</text>
<text class="t" text-anchor="start" transform="translate(1746.3 973.1) scale(0.97 1)">0</text>
<text class="t" text-anchor="end" transform="translate(83.5 817.6) scale(0.97 1)">1</text>
<text class="t" text-anchor="start" transform="translate(1746.3 817.6) scale(0.97 1)">20</text>
<text class="t" text-anchor="end" transform="translate(83.5 662.1) scale(0.97 1)">2</text>
<text class="t" text-anchor="start" transform="translate(1746.3 662.1) scale(0.97 1)">40</text>
<text class="t" text-anchor="end" transform="translate(83.5 506.6) scale(0.97 1)">3</text>
<text class="t" text-anchor="start" transform="translate(1746.3 506.6) scale(0.97 1)">60</text>
<text class="t" text-anchor="end" transform="translate(83.5 351.1) scale(0.97 1)">4</text>
<text class="t" text-anchor="start" transform="translate(1746.3 351.1) scale(0.97 1)">80</text>
<text class="t" text-anchor="end" transform="translate(83.5 195.6) scale(0.97 1)">5</text>
<text class="t" text-anchor="start" transform="translate(1746.3 195.6) scale(0.97 1)">100</text>
<text class="t" text-anchor="end" transform="translate(83.5 40.1) scale(0.97 1)">6</text>
<text class="t" text-anchor="start" transform="translate(1746.3 40.1) scale(0.97 1)">120</text>
<text class="t" text-anchor="middle" transform="translate(116.0 1021.3) scale(0.97 1)">0.1</text>
<text class="t" text-anchor="middle" transform="translate(515.1 1021.3) scale(0.97 1)">1</text>
<text class="t" text-anchor="middle" transform="translate(914.1 1021.3) scale(0.97 1)">10</text>
<text class="t" text-anchor="middle" transform="translate(1313.2 1021.3) scale(0.97 1)">100</text>
<text class="t" text-anchor="middle" transform="translate(1712.2 1021.3) scale(0.97 1)">1000</text>
<text class="t" style="font-size:35px" x="789.0" y="1074.2" textLength="107.5" lengthAdjust="spacingAndGlyphs">Particle</text>
<text class="t" style="font-size:35px" x="906.3" y="1074.2" textLength="54.5" lengthAdjust="spacingAndGlyphs">size</text>
<text class="t" style="font-size:35px" x="971.3" y="1074.2" textLength="11.5" lengthAdjust="spacingAndGlyphs">(</text>
<text class="t" style="font-size:35px" x="981.3" y="1074.2" textLength="32.5" lengthAdjust="spacingAndGlyphs" font-weight="300">㎛</text>
<text class="t" style="font-size:35px" x="1014.2" y="1074.2" textLength="11.5" lengthAdjust="spacingAndGlyphs">)</text>
<text class="t" style="font-size:35px" transform="translate(44.2 549.5) rotate(-90)" textLength="173" lengthAdjust="spacingAndGlyphs">Volume (%)</text>
<text class="t" style="font-size:35px" transform="translate(1836.8 620.5) rotate(-90)" textLength="349" lengthAdjust="spacingAndGlyphs">Cumulative volume (%)</text>
</svg></body></html>
